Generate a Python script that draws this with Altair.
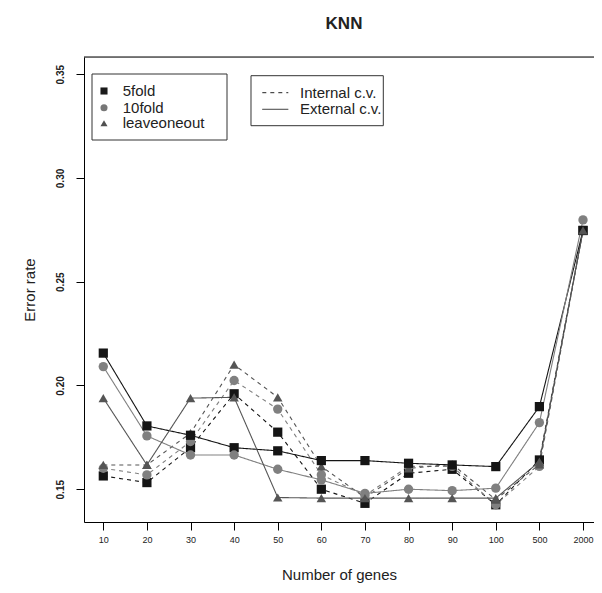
import altair as alt
import pandas as pd

genes = ["10", "20", "30", "40", "50", "60", "70", "80", "90", "100", "500", "2000"]
methods = ["5fold", "10fold", "leaveoneout"]

ext_5fold = [0.2156, 0.1805, 0.1760, 0.1700, 0.1685, 0.1638, 0.1638, 0.1625, 0.1617, 0.1609, 0.1898, 0.2747]
int_5fold = [0.1564, 0.1532, 0.1700, 0.1960, 0.1775, 0.1500, 0.1432, 0.1577, 0.1596, 0.1425, 0.1641, 0.2747]
ext_10fold = [0.2091, 0.1757, 0.1665, 0.1665, 0.1596, 0.1545, 0.1480, 0.1500, 0.1493, 0.1505, 0.1821, 0.2798]
int_10fold = [0.1601, 0.1569, 0.1730, 0.2024, 0.1886, 0.1570, 0.1470, 0.1610, 0.1610, 0.1425, 0.1610, 0.2747]
ext_loo = [0.1939, 0.1617, 0.1939, 0.1943, 0.1460, 0.1457, 0.1457, 0.1457, 0.1457, 0.1457, 0.1633, 0.2747]
int_loo = [0.1617, 0.1617, 0.1770, 0.2100, 0.1943, 0.1610, 0.1460, 0.1600, 0.1620, 0.1450, 0.1620, 0.2747]

series = [
    ("5fold", "Internal", int_5fold),
    ("10fold", "Internal", int_10fold),
    ("leaveoneout", "Internal", int_loo),
    ("5fold", "External", ext_5fold),
    ("10fold", "External", ext_10fold),
    ("leaveoneout", "External", ext_loo),
]
rows = []
for m, cv, vals in series:
    for i, (g, v) in enumerate(zip(genes, vals)):
        rows.append({"method": m, "cv": cv, "idx": i + 1, "gene": g, "err": v, "series": m + cv})
df = pd.DataFrame(rows)

FONT = "Liberation Sans"
W, H = 510, 465

label_expr = "[" + ",".join("'%s'" % g for g in genes) + "][datum.value - 1]"

xscale = alt.Scale(domain=[0.5575, 12.252], nice=False, zero=False)
yscale = alt.Scale(domain=[0.1342, 0.3583], nice=False, zero=False)

x_enc = alt.X("idx:Q", scale=xscale,
              axis=alt.Axis(values=list(range(1, 13)), labelExpr=label_expr, grid=False,
                            tickSize=8, tickColor="black", domainColor="black",
                            labelFont=FONT, labelFontSize=9, labelColor="#222",
                            labelPadding=5, title="Number of genes", titleFont=FONT,
                            titleFontSize=15, titleFontWeight="normal", titleColor="#222",
                            titlePadding=23))
y_enc = alt.Y("err:Q", scale=yscale,
              axis=alt.Axis(values=[0.15, 0.20, 0.25, 0.30, 0.35], format=".2f", grid=False,
                            tickSize=8, tickColor="black", domainColor="black",
                            labelAngle=270, labelAlign="center", labelBaseline="bottom",
                            labelFont=FONT, labelFontSize=10, labelFontWeight="bold",
                            labelColor="#222", labelPadding=11,
                            title="Error rate", titleFont=FONT, titleFontSize=15,
                            titleFontWeight="normal", titleColor="#222", titlePadding=18))

line_color = alt.Color("method:N", scale=alt.Scale(domain=methods, range=["#151515", "#808080", "#555555"]), legend=None)
pt_color = alt.Color("method:N", scale=alt.Scale(domain=methods, range=["#1a1a1a", "#777777", "#505050"]), legend=None)

lines = alt.Chart(df).mark_line(strokeWidth=1.1).encode(
    x=x_enc, y=y_enc, color=line_color,
    strokeDash=alt.StrokeDash("cv:N", scale=alt.Scale(domain=["Internal", "External"], range=[[4, 4], [1, 0]]), legend=None),
    detail="series:N",
)
points = alt.Chart(df).mark_point(filled=True, opacity=1).encode(
    x="idx:Q", y="err:Q", color=pt_color,
    shape=alt.Shape("method:N", scale=alt.Scale(domain=methods, range=["square", "circle", "triangle-up"]), legend=None),
    size=alt.Size("method:N", scale=alt.Scale(domain=methods, range=[85, 90, 110]), legend=None),
)

one = pd.DataFrame({"a": [0]})
top_rule = alt.Chart(one).mark_rule(color="black", strokeWidth=1).encode(
    x=alt.value(0), x2=alt.value(W), y=alt.value(0))

title = alt.Chart(one).mark_text(text="KNN", font=FONT, fontSize=17, fontWeight="bold",
                                 color="#222", baseline="middle", align="center").encode(
    x=alt.value(260), y=alt.value(-33))

# legend 1 (methods)
box1 = alt.Chart(one).mark_rect(fill="white", stroke="#333", strokeWidth=1).encode(
    x=alt.value(8), x2=alt.value(143), y=alt.value(17), y2=alt.value(83))
sym_shapes = ["square", "circle", "triangle-up"]
sym_colors = ["#1a1a1a", "#777777", "#505050"]
sym_y = [34, 50.7, 66.3]
leg1 = [box1]
for name, shp, col, yy in zip(methods, sym_shapes, sym_colors, sym_y):
    leg1.append(alt.Chart(one).mark_point(shape=shp, filled=True, opacity=1, color=col, size=50).encode(
        x=alt.value(20), y=alt.value(yy)))
    leg1.append(alt.Chart(one).mark_text(text=name, font=FONT, fontSize=15, color="#222",
                                         align="left", baseline="middle").encode(
        x=alt.value(38.7), y=alt.value(yy)))

# legend 2 (cv type)
box2 = alt.Chart(one).mark_rect(fill="white", stroke="#333", strokeWidth=1).encode(
    x=alt.value(167), x2=alt.value(299.3), y=alt.value(18.7), y2=alt.value(68.7))
leg2 = [box2]
for name, dash, yy in [("Internal c.v.", [4, 4], 35.7), ("External c.v.", [1, 0], 52.3)]:
    leg2.append(alt.Chart(one).mark_rule(color="#222", strokeWidth=1, strokeDash=dash).encode(
        x=alt.value(178.3), x2=alt.value(204.3), y=alt.value(yy)))
    leg2.append(alt.Chart(one).mark_text(text=name, font=FONT, fontSize=15, color="#222",
                                         align="left", baseline="middle").encode(
        x=alt.value(216), y=alt.value(yy)))

chart = alt.layer(lines, points, top_rule, title, *leg1, *leg2).properties(
    width=W, height=H,
    padding={"left": 76, "top": 49, "right": 0, "bottom": 63},
    autosize=alt.AutoSizeParams(type="none"),
).configure_view(strokeWidth=0).configure(background="white")

chart.save("out.html", embed_options={"renderer": "svg", "actions": False})
